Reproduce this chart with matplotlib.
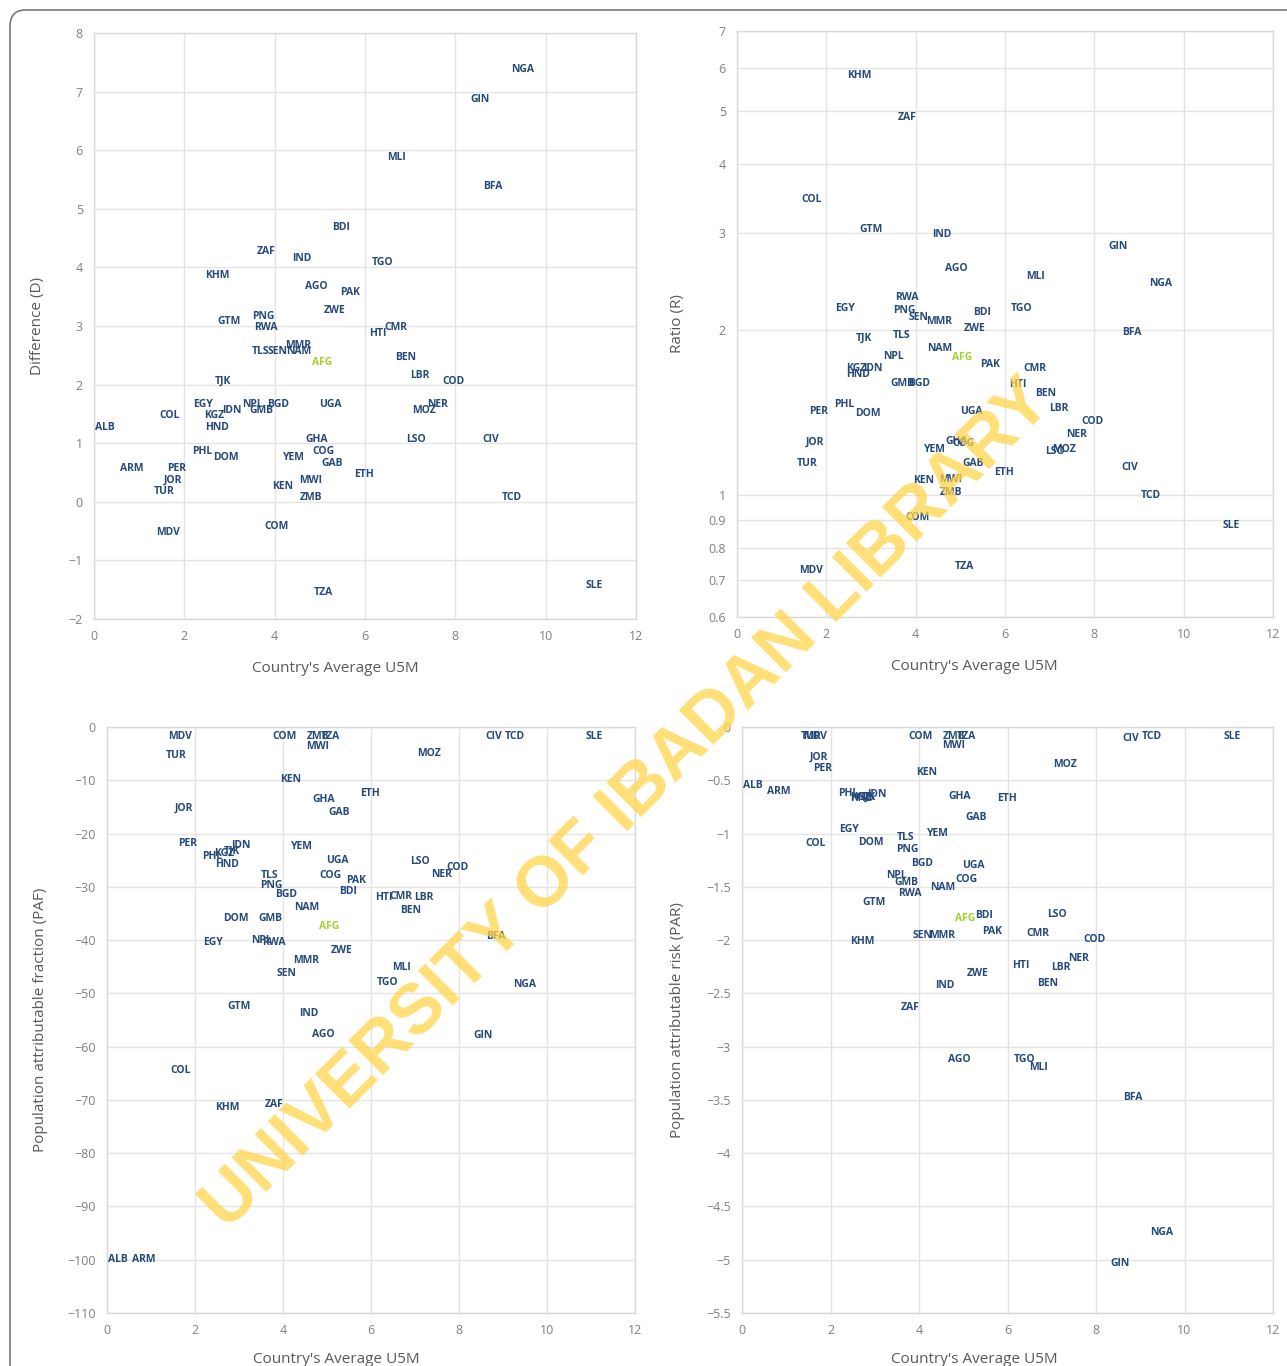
import numpy as np
import matplotlib
matplotlib.use('Agg')
import matplotlib.pyplot as plt
from matplotlib.ticker import FuncFormatter, NullLocator
from matplotlib.patches import FancyBboxPatch

codes = ['AFG', 'AGO', 'ALB', 'ARM', 'BDI', 'BEN', 'BFA', 'BGD', 'CIV', 'CMR',
         'COD', 'COG', 'COL', 'COM', 'DOM', 'EGY', 'ETH', 'GAB', 'GHA', 'GIN',
         'GMB', 'GTM', 'HND', 'HTI', 'IDN', 'IND', 'JOR', 'KEN', 'KGZ', 'KHM',
         'LBR', 'LSO', 'MDV', 'MLI', 'MMR', 'MOZ', 'MWI', 'NAM', 'NER', 'NGA',
         'NPL', 'PAK', 'PER', 'PHL', 'PNG', 'RWA', 'SEN', 'SLE', 'TCD', 'TGO',
         'TJK', 'TLS', 'TUR', 'TZA', 'UGA', 'YEM', 'ZAF', 'ZMB', 'ZWE']

u5m = [5.05, 4.92, 0.25, 0.84, 5.48, 6.91, 8.84, 4.08, 8.79, 6.68,
       7.96, 5.08, 1.67, 4.04, 2.92, 2.41, 5.98, 5.28, 4.92, 8.54,
       3.71, 2.99, 2.72, 6.29, 3.05, 4.59, 1.74, 4.17, 2.66, 2.73,
       7.21, 7.12, 1.65, 6.69, 4.53, 7.31, 4.79, 4.54, 7.61, 9.49,
       3.50, 5.66, 1.83, 2.40, 3.74, 3.80, 4.07, 11.07, 9.26, 6.38,
       2.85, 3.69, 1.56, 5.08, 5.24, 4.43, 3.80, 4.80, 5.33]

diff = [2.37, 3.67, 1.26, 0.56, 4.68, 2.47, 5.38, 1.66, 1.06, 2.97,
        2.06, 0.85, 1.47, -0.43, 0.75, 1.66, 0.46, 0.65, 1.06, 6.86,
        1.55, 3.07, 1.26, 2.87, 1.55, 4.16, 0.36, 0.26, 1.47, 3.87,
        2.15, 1.06, -0.53, 5.87, 2.66, 1.55, 0.36, 2.56, 1.66, 7.37,
        1.66, 3.57, 0.56, 0.85, 3.17, 2.97, 2.56, -1.43, 0.07, 4.08,
        2.06, 2.56, 0.17, -1.54, 1.66, 0.75, 4.27, 0.07, 3.26]

ratio = [1.78, 2.59, np.nan, np.nan, 2.15, 1.53, 1.98, 1.60, 1.125, 1.70,
         1.36, 1.24, 3.46, 0.91, 1.41, 2.19, 1.10, 1.14, 1.25, 2.84,
         1.60, 3.04, 1.66, 1.59, 1.70, 2.98, 1.25, 1.065, 1.70, 5.82,
         1.44, 1.20, 0.73, 2.50, 2.07, 1.21, 1.07, 1.85, 1.29, 2.43,
         1.79, 1.73, 1.42, 1.46, 2.17, 2.29, 2.11, 0.88, 1.00, 2.19,
         1.93, 1.95, 1.14, 0.74, 1.42, 1.21, 4.88, 1.01, 2.01]

paf = [-37.5, -57.8, -100, -100, -30.8, -34.5, -39.4, -31.5, -1.7, -31.8,
       -26.3, -27.8, -64.4, -1.7, -36.0, -40.4, -12.4, -16.0, -13.7, -58.0,
       -36.0, -52.4, -25.9, -32.0, -22.2, -53.7, -15.2, -9.8, -23.8, -71.5,
       -32.0, -25.3, -1.7, -45.2, -43.9, -4.9, -3.6, -33.8, -27.6, -48.4,
       -40.0, -28.9, -21.8, -24.4, -29.8, -40.4, -46.2, -1.7, -1.7, -47.9,
       -23.3, -27.8, -5.4, -1.7, -25.0, -22.5, -70.8, -1.7, -42.0]

par = [-1.80, -3.12, -0.55, -0.61, -1.77, -2.41, -3.48, -1.28, -0.11, -1.94,
       -1.99, -1.43, -1.09, -0.085, -1.08, -0.96, -0.67, -0.85, -0.65, -5.04,
       -1.46, -1.65, -0.67, -2.24, -0.63, -2.43, -0.28, -0.43, -0.66, -2.01,
       -2.26, -1.76, -0.085, -3.20, -1.96, -0.35, -0.17, -1.51, -2.17, -4.74,
       -1.39, -1.92, -0.39, -0.62, -1.15, -1.56, -1.96, -0.085, -0.085, -3.12,
       -0.66, -1.04, -0.085, -0.085, -1.30, -1.0, -2.63, -0.085, -2.31]

xlabel = "Country's Average U5M"
navy = '#24497a'
green = '#a3d42a'
grid_c = '#e4e4e4'
tick_c = '#808080'

W, H = 1287, 1366
fig = plt.figure(figsize=(W / 100, H / 100), dpi=100)


def fmt(v, pos):
    return f'{v:g}'.replace('-', '\u2212')


def panel(rect, yvals, ylabel, ylim, yticks, ylab_x, xlab_pos, log=False):
    ax = fig.add_axes(rect)
    if log:
        ax.set_yscale('log')
    ax.set_xlim(0, 12)
    ax.set_ylim(*ylim)
    ax.set_xticks(range(0, 13, 2))
    ax.set_yticks(yticks)
    ax.yaxis.set_minor_locator(NullLocator())
    ax.xaxis.set_major_formatter(FuncFormatter(fmt))
    ax.yaxis.set_major_formatter(FuncFormatter(fmt))
    ax.tick_params(length=0, labelsize=9, labelcolor=tick_c, pad=8)
    for lab in ax.get_xticklabels() + ax.get_yticklabels():
        lab.set_family('Open Sans')
    ax.grid(True, color=grid_c, lw=1)
    ax.set_axisbelow(True)
    for s in ax.spines.values():
        s.set_color('#d6d9df')
        s.set_linewidth(1)
    ax.set_xlabel(xlabel, fontsize=11, color='#595959', family='Open Sans')
    ax.set_ylabel(ylabel, fontsize=11, color='#595959', family='Open Sans')
    ax.xaxis.set_label_coords(*xlab_pos)
    ax.yaxis.set_label_coords(ylab_x, 0.5)
    for c, x, y in zip(codes, u5m, yvals):
        if np.isnan(y):
            continue
        ax.text(x, y, c, ha='center', va='center', fontsize=7.5,
                fontweight='bold', family='Open Sans',
                color=green if c == 'AFG' else navy)
    return ax


panel([94 / W, 1 - 619 / H, 542 / W, 586 / H], diff, 'Difference (D)',
      (-2, 8), range(-2, 9), -0.090, (0.446, -0.072))
panel([737 / W, 1 - 617 / H, 536 / W, 586 / H], ratio, 'Ratio (R)',
      (0.6, 7), [0.6, 0.7, 0.8, 0.9, 1, 2, 3, 4, 5, 6, 7], -0.097,
      (0.442, -0.072), log=True)
panel([107 / W, 1 - 1313 / H, 528 / W, 586 / H], paf,
      'Population attributable fraction (PAF)',
      (-110, 0), range(-110, 1, 10), -0.112, (0.434, -0.066))
panel([742 / W, 1 - 1313 / H, 531 / W, 586 / H], par,
      'Population attributable risk (PAR)',
      (-5.5, 0), np.arange(-5.5, 0.01, 0.5), -0.107, (0.437, -0.066))

# outer rounded frame
frame = FancyBboxPatch((10 / W, -0.05), 1.2, 1.05 - 10 / H,
                       boxstyle='round,pad=0,rounding_size=0.012',
                       transform=fig.transFigure, fill=False,
                       ec='#7a7a7a', lw=1.2)
fig.patches.append(frame)

# watermark
fig.text(0.488, 0.41, 'UNIVERSITY OF IBADAN LIBRARY', rotation=45,
         ha='center', va='center', fontsize=51, fontweight='bold',
         family='Liberation Sans', color='#ffd54a', alpha=0.75, zorder=10)

fig.savefig('out.png', dpi=100)
